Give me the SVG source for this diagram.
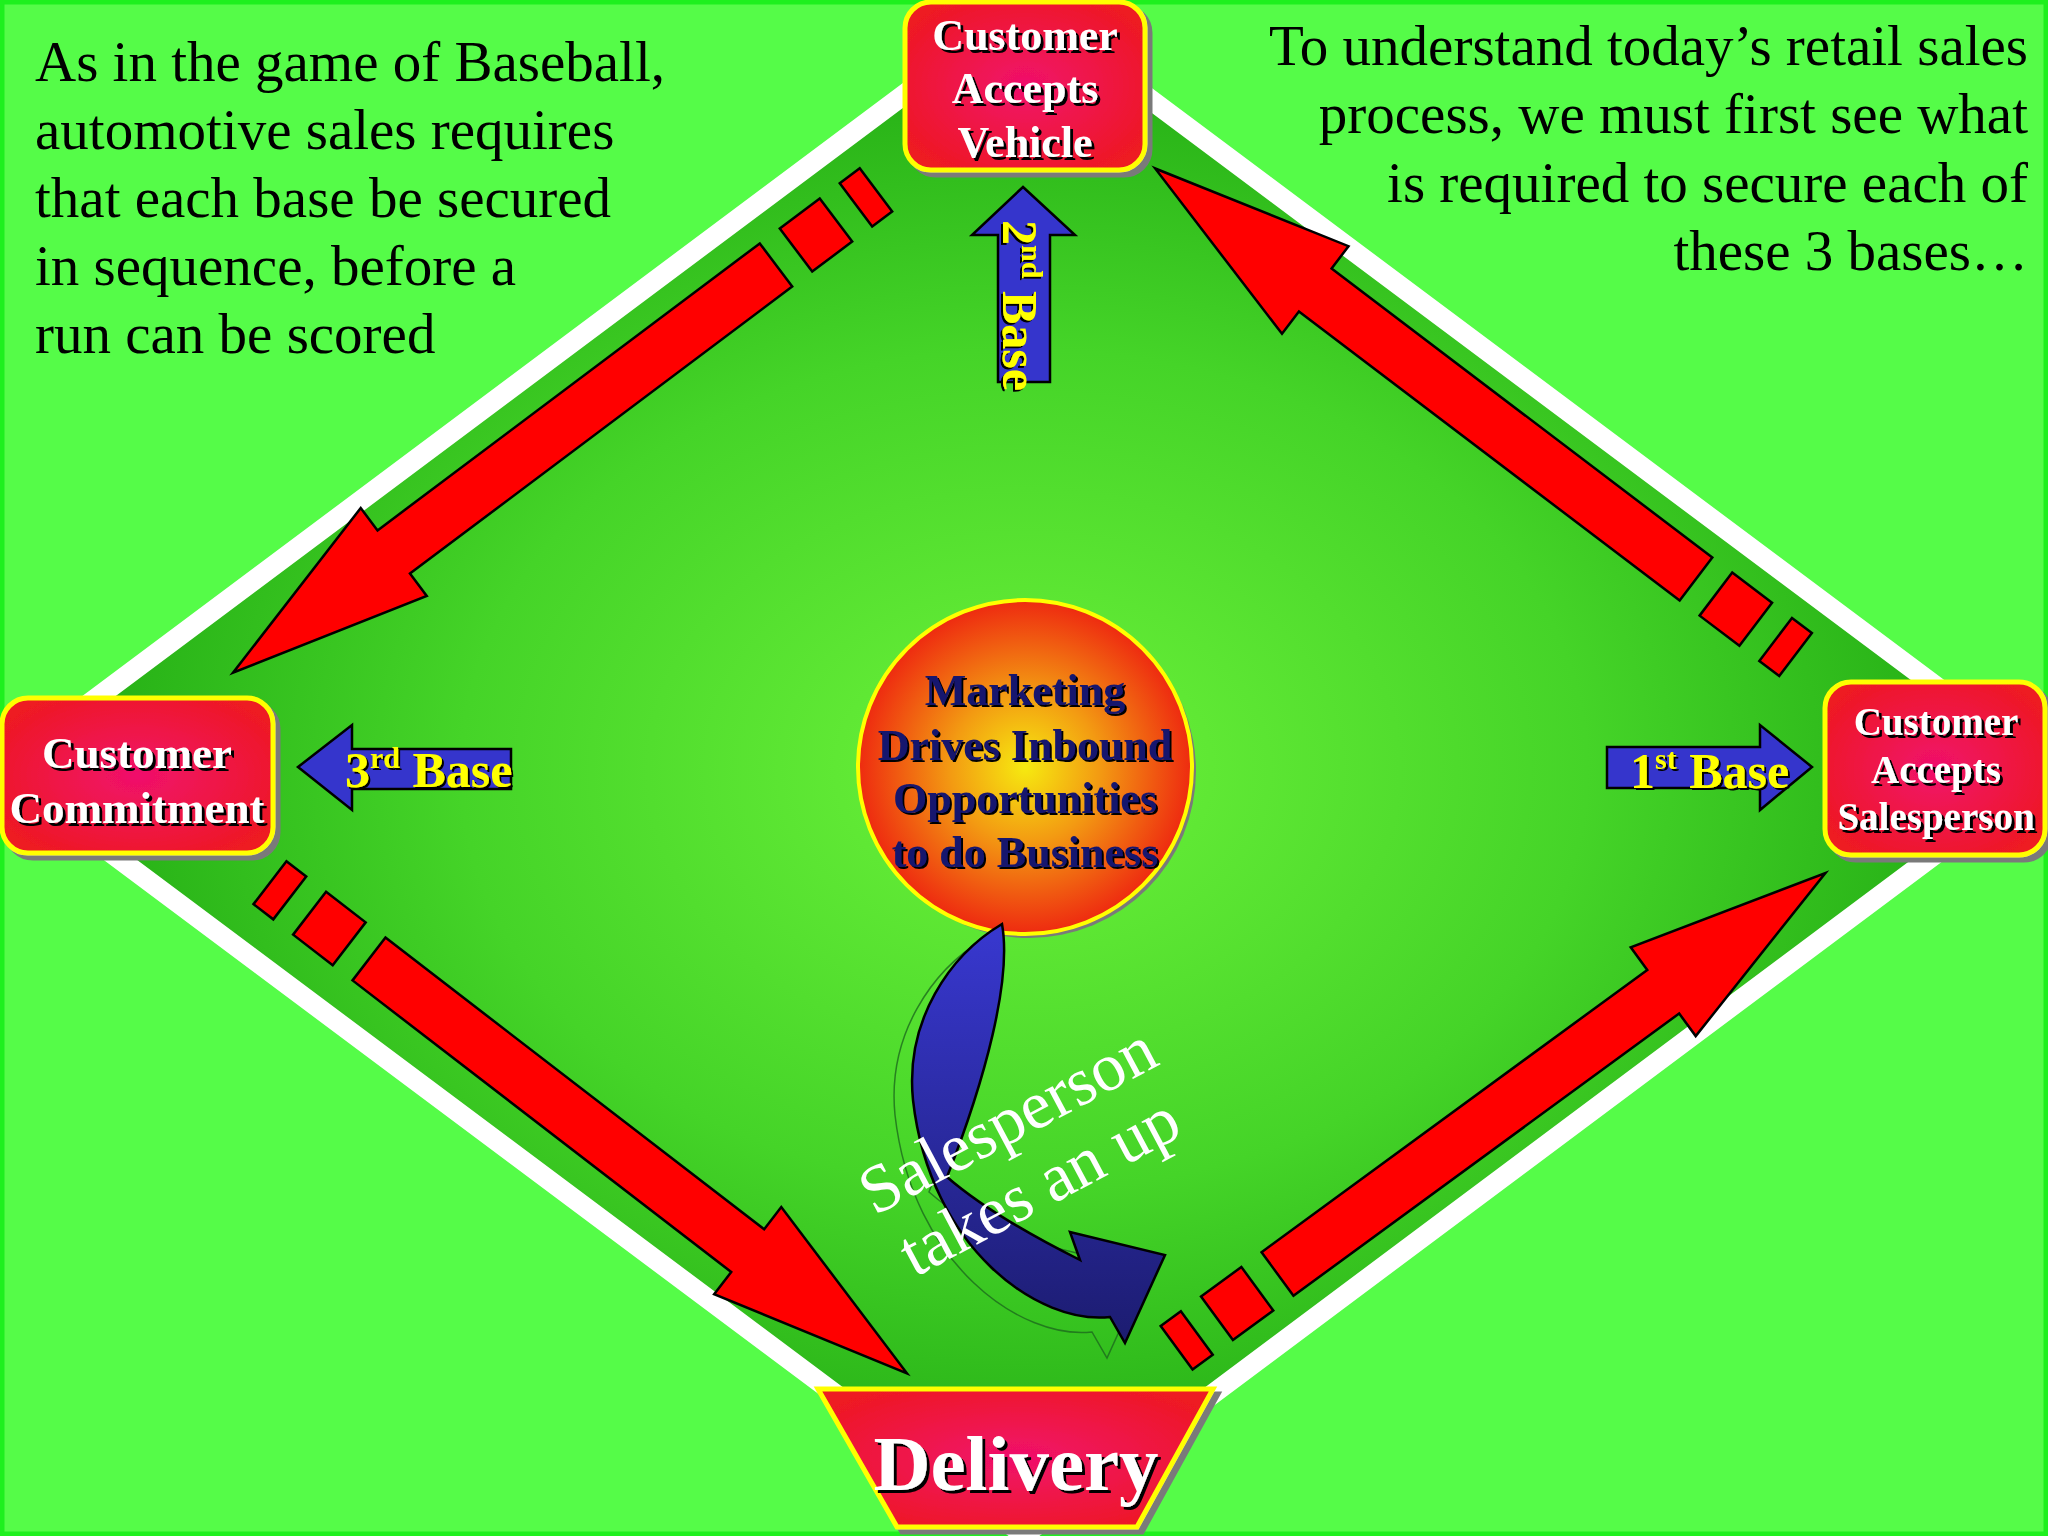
<svg xmlns="http://www.w3.org/2000/svg" xmlns:xlink="http://www.w3.org/1999/xlink" width="2048" height="1536" viewBox="0 0 2048 1536">
<defs>
<style>
.note{font-family:'Liberation Serif','Times New Roman',serif;font-size:57px;fill:#000}
.nodeText{font-family:'Liberation Serif','Times New Roman',serif;font-weight:bold;fill:#fff;text-anchor:middle;filter:url(#ts)}
.centerText{font-family:'Liberation Serif','Times New Roman',serif;font-weight:bold;font-size:44px;fill:#16166e;text-anchor:middle;filter:url(#ts2)}
.baseLbl{font-family:'Liberation Serif','Times New Roman',serif;font-weight:bold;font-size:50px;fill:#ffff00;filter:url(#ts2)}
.sup{font-size:30px}
.redArrow{fill:#ff0000;stroke:#000;stroke-width:2.5;stroke-linejoin:miter}
.blueArrow{fill:#3535cc;stroke:#000;stroke-width:2.5}
.box{fill:url(#boxg);stroke:#ffff00;stroke-width:5;filter:url(#bs)}
.upText{font-family:'Liberation Serif','Times New Roman',serif;font-size:68px;fill:#fff;text-anchor:middle}
</style>
<filter id="ts" x="-10%" y="-10%" width="120%" height="130%"><feDropShadow dx="3" dy="3" stdDeviation="0.3" flood-color="#000" flood-opacity="1"/></filter>
<filter id="ts2" x="-10%" y="-10%" width="120%" height="130%"><feDropShadow dx="2" dy="2" stdDeviation="0.3" flood-color="#000" flood-opacity="1"/></filter>
<filter id="bs" x="-10%" y="-10%" width="125%" height="125%"><feDropShadow dx="5" dy="5" stdDeviation="0.5" flood-color="#7a7a7a" flood-opacity="1"/></filter>
<radialGradient id="fieldg" cx="0.5" cy="0.5" r="0.5">
<stop offset="0" stop-color="#6cf23a"/>
<stop offset="0.55" stop-color="#45d428"/>
<stop offset="1" stop-color="#1fa812"/>
</radialGradient>
<radialGradient id="boxg" cx="0.5" cy="0.5" r="0.6">
<stop offset="0" stop-color="#f0106c"/>
<stop offset="1" stop-color="#ee1a22"/>
</radialGradient>
<radialGradient id="circg" cx="0.5" cy="0.5" r="0.5">
<stop offset="0" stop-color="#f6ea10"/>
<stop offset="0.45" stop-color="#f39a12"/>
<stop offset="1" stop-color="#ee2a10"/>
</radialGradient>
<linearGradient id="curveg" x1="0" y1="0" x2="0" y2="1">
<stop offset="0" stop-color="#3838d0"/>
<stop offset="1" stop-color="#1c1c70"/>
</linearGradient>
<g id="redArr">
<rect class="redArrow" x="-125" y="-27" width="25" height="54"/>
<rect class="redArrow" x="-75" y="-27" width="50" height="54"/>
<path class="redArrow" d="M0,-27 L478,-27 L478,-55 L679,0 L478,55 L478,27 L0,27 Z"/>
</g>
</defs>

<rect x="0" y="0" width="2048" height="1536" fill="#55fc48"/>
<rect x="2" y="2" width="2044" height="1532" fill="none" stroke="#1ef01e" stroke-width="5"/>

<polygon id="field" points="1024,5 2048,770 1024,1535 0,770" fill="url(#fieldg)" stroke="#ffffff" stroke-width="20"/>

<g id="notes">
<text class="note" x="35" y="81">As in the game of Baseball,</text>
<text class="note" x="35" y="149">automotive sales requires</text>
<text class="note" x="35" y="217">that each base be secured</text>
<text class="note" x="35" y="285">in sequence, before a</text>
<text class="note" x="35" y="353">run can be scored</text>
<text class="note" x="2028" y="65" text-anchor="end">To understand today’s retail sales</text>
<text class="note" x="2028" y="133" text-anchor="end">process, we must first see what</text>
<text class="note" x="2028" y="202" text-anchor="end">is required to secure each of</text>
<text class="note" x="2028" y="270" text-anchor="end">these 3 bases…</text>
</g>

<g id="connectors">
<use xlink:href="#redArr" transform="translate(776,265) rotate(143.1)"/>
<use xlink:href="#redArr" transform="translate(369,959) rotate(37.6)"/>
<use xlink:href="#redArr" transform="translate(1277.5,1274) rotate(-36.2)"/>
<use xlink:href="#redArr" transform="translate(1696,579) rotate(217.2)"/>
</g>

<g id="base-arrows">
<g id="second-base">
<polygon class="blueArrow" points="1023,187 1075,235 1050,235 1050,382 998,382 998,235 972,235"/>
<text class="baseLbl" transform="translate(1003,220) rotate(90)">2<tspan class="sup" dy="-19">nd</tspan><tspan dy="19"> Base</tspan></text>
</g>
<g id="third-base">
<polygon class="blueArrow" points="298,767 352,725 352,749 511,749 511,789 352,789 352,810"/>
<text class="baseLbl" x="345" y="787">3<tspan class="sup" dy="-19">rd</tspan><tspan dy="19"> Base</tspan></text>
</g>
<g id="first-base">
<polygon class="blueArrow" points="1607,747 1760,747 1760,725 1812,767 1760,810 1760,788 1607,788"/>
<text class="baseLbl" x="1630" y="788">1<tspan class="sup" dy="-19">st</tspan><tspan dy="19"> Base</tspan></text>
</g>
</g>

<g id="marketing">
<circle cx="1029" cy="771" r="167" fill="#7a7a7a"/>
<circle cx="1025" cy="767" r="167" fill="url(#circg)" stroke="#ffff00" stroke-width="4"/>
<text class="centerText" x="1025" y="705">Marketing</text>
<text class="centerText" x="1025" y="760">Drives Inbound</text>
<text class="centerText" x="1025" y="813">Opportunities</text>
<text class="centerText" x="1025" y="867">to do Business</text>
</g>

<g id="takes-up">
<path d="M1002,924 C1012,980 985,1080 947,1177 C985,1210 1040,1240 1080,1260 L1070,1232 L1165,1255 L1125,1343 L1110,1317 C1040,1325 930,1250 913,1100 C905,1020 950,955 1002,924 Z" transform="translate(-18,15)" fill="none" stroke="#1d6a1d" stroke-width="1.5" opacity="0.8"/>
<path class="blueArrow" style="fill:url(#curveg)" d="M1002,924 C1012,980 985,1080 947,1177 C985,1210 1040,1240 1080,1260 L1070,1232 L1165,1255 L1125,1343 L1110,1317 C1040,1325 930,1250 913,1100 C905,1020 950,955 1002,924 Z"/>
<text class="upText" transform="translate(1018,1140) rotate(-28)"><tspan x="0" y="0">Salesperson</tspan><tspan x="-3" y="73">takes an up</tspan></text>
</g>

<g id="node-vehicle">
<rect class="box" x="905" y="2" width="240" height="168" rx="26"/>
<text class="nodeText" font-size="44" x="1025" y="50">Customer</text>
<text class="nodeText" font-size="44" x="1025" y="103">Accepts</text>
<text class="nodeText" font-size="44" x="1025" y="157">Vehicle</text>
</g>

<g id="node-commitment">
<rect class="box" x="2" y="698" width="271" height="155" rx="26"/>
<text class="nodeText" font-size="45" x="137" y="768">Customer</text>
<text class="nodeText" font-size="45" x="137" y="823">Commitment</text>
</g>

<g id="node-salesperson">
<rect class="box" x="1825" y="682" width="220" height="173" rx="26"/>
<text class="nodeText" font-size="39" x="1936" y="735">Customer</text>
<text class="nodeText" font-size="39" x="1936" y="783">Accepts</text>
<text class="nodeText" font-size="39" x="1936" y="830">Salesperson</text>
</g>

<g id="node-delivery">
<polygon class="box" points="818,1389 1213,1389 1137,1527 897,1527"/>
<text class="nodeText" font-size="79" x="1016" y="1490">Delivery</text>
</g>
</svg>
